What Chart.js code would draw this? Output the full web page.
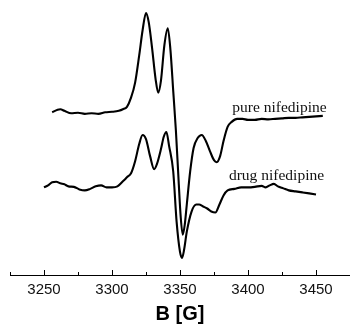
<!DOCTYPE html>
<html>
<head>
<meta charset="utf-8">
<script src="https://cdn.jsdelivr.net/npm/chart.js@4"></script>
<style>
  body { margin: 0; background: #fff; }
  canvas { display: block; }
</style>
</head>
<body>
<canvas id="eprChart" width="350" height="327"></canvas>
<script>
// EPR spectra, field in gauss, signal in arbitrary units
const pureField = [3256, 3260, 3262, 3265, 3270, 3275, 3280, 3285, 3290, 3295, 3300, 3305, 3308, 3311, 3314, 3317, 3320, 3322.5, 3325, 3327, 3329.5, 3332, 3334, 3336, 3338.5, 3341, 3343, 3345, 3347, 3349, 3350.5, 3352, 3353.5, 3355, 3357.5, 3360, 3363, 3366, 3369, 3372, 3375, 3377, 3379.5, 3382, 3385, 3388, 3392, 3396, 3400, 3405, 3410, 3415, 3420, 3425, 3430, 3435, 3440, 3445, 3450, 3455];
const pureSignal = [161.5, 164, 164.5, 163, 160.5, 161, 160, 160.5, 160, 161.5, 162, 163, 164.5, 167, 176, 191, 218, 243, 260, 251, 225, 195, 181, 193, 228, 245, 223, 183, 143, 93, 58, 40, 50, 70, 103, 126, 136, 139, 133, 123, 114, 112, 118, 133, 147, 152, 155, 155, 154, 154, 155, 154.5, 155, 155.5, 156, 156, 156.5, 157, 157.5, 158];

const drugField = [3250, 3253, 3256, 3259, 3262, 3265, 3268, 3272, 3276, 3280, 3284, 3288, 3292, 3296, 3300, 3304, 3308, 3311, 3314, 3317, 3320, 3322.5, 3325, 3328, 3331, 3333, 3336, 3338, 3340, 3342, 3345, 3347.5, 3350, 3351.5, 3353, 3355, 3358.5, 3362, 3364, 3367, 3370, 3373, 3376, 3379, 3382, 3385, 3390, 3395, 3400, 3405, 3410, 3413, 3416, 3419, 3422, 3426, 3430, 3435, 3440, 3445, 3450];
const drugSignal = [87, 89, 92, 92.5, 91, 90, 88, 87.5, 85, 84, 85.5, 88, 89, 87, 87, 88, 93, 97, 101, 113, 130, 139, 135, 118, 105, 110, 125, 137, 142, 128, 103, 53, 23, 17, 25, 43, 63, 70, 70, 68, 66, 63, 62, 70, 79, 84, 85.5, 87, 87, 87.5, 88.5, 87, 89, 90.5, 88, 86, 84, 83, 82, 81, 80];

const fieldTicks = [3250, 3300, 3350, 3400, 3450];

function toPoints(xs, ys) {
    return xs.map((x, i) => ({ x: x, y: ys[i] }));
}

// small tick marks pointing up from the axis, and the curve labels
const decorations = {
    id: 'decorations',
    afterDraw(chart) {
        const ctx = chart.ctx;
        const xs = chart.scales.x;
        const ys = chart.scales.y;
        const bottom = chart.chartArea.bottom;
        ctx.save();
        ctx.strokeStyle = '#000';
        ctx.lineWidth = 1;
        xs.ticks.forEach(t => {
            const px = Math.round(xs.getPixelForValue(t.value)) + 0.5;
            const len = fieldTicks.includes(t.value) ? 5 : 3;
            ctx.beginPath();
            ctx.moveTo(px, bottom);
            ctx.lineTo(px, bottom - len);
            ctx.stroke();
        });
        ctx.fillStyle = '#111';
        ctx.font = '15.5px "Liberation Serif", "Times New Roman", serif';
        ctx.textAlign = 'left';
        ctx.textBaseline = 'alphabetic';
        ctx.fillText('pure nifedipine', xs.getPixelForValue(3388.5), ys.getPixelForValue(162));
        ctx.fillText('drug nifedipine', xs.getPixelForValue(3386), ys.getPixelForValue(94));
        ctx.restore();
    }
};

const ctx = document.getElementById('eprChart').getContext('2d');

new Chart(ctx, {
    type: 'line',
    data: {
        datasets: [{
            label: 'pure nifedipine',
            data: toPoints(pureField, pureSignal),
            borderColor: '#000',
            borderWidth: 2.1,
            pointRadius: 0,
            cubicInterpolationMode: 'monotone'
        }, {
            label: 'drug nifedipine',
            data: toPoints(drugField, drugSignal),
            borderColor: '#000',
            borderWidth: 2.1,
            pointRadius: 0,
            cubicInterpolationMode: 'monotone'
        }]
    },
    options: {
        responsive: false,
        animation: false,
        layout: {
            autoPadding: false,
            padding: { left: 10, right: 0, top: 0, bottom: 0 }
        },
        plugins: {
            legend: { display: false },
            tooltip: { enabled: false }
        },
        scales: {
            x: {
                type: 'linear',
                min: 3225,
                max: 3475,
                afterFit: axis => { axis.paddingLeft = 0; axis.paddingRight = 0; },
                grid: { display: false, drawTicks: false },
                border: { display: true, color: '#000', width: 1 },
                ticks: {
                    stepSize: 25,
                    autoSkip: false,
                    maxRotation: 0,
                    padding: 6,
                    color: '#111',
                    font: { family: 'Liberation Sans, Arial, sans-serif', size: 15 },
                    callback: v => fieldTicks.includes(v) ? String(v) : ''
                },
                title: {
                    display: true,
                    text: 'B [G]',
                    color: '#000',
                    padding: { top: -3, bottom: 1 },
                    font: { family: 'Liberation Sans, Arial, sans-serif', size: 20, weight: 'bold' }
                }
            },
            y: {
                display: false,
                min: 0,
                max: 273
            }
        }
    },
    plugins: [decorations]
});
</script>
</body>
</html>
